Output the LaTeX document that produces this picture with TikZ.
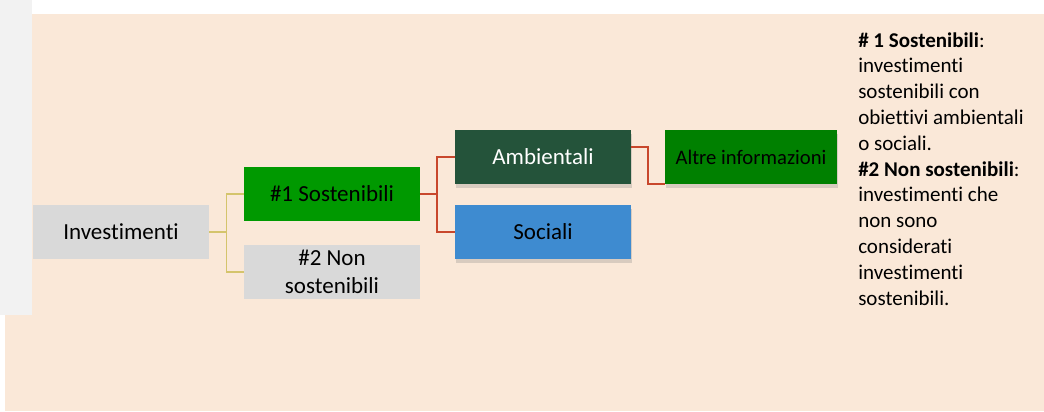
\documentclass[tikz,border=0pt]{standalone}
\usepackage{fontspec}
\setmainfont[Ligatures=NoCommon]{Carlito}
\usetikzlibrary{shadows}
\definecolor{peach}{HTML}{FAE8D8}
\definecolor{panel}{HTML}{F2F2F2}
\definecolor{boxgray}{HTML}{D9D9D9}
\definecolor{sostgreen}{HTML}{009900}
\definecolor{ambgreen}{HTML}{24533A}
\definecolor{socblue}{HTML}{3E8BD0}
\definecolor{altgreen}{HTML}{008000}
\definecolor{lineyellow}{HTML}{D4C46C}
\definecolor{linered}{HTML}{C8472C}
\begin{document}
\begin{tikzpicture}[x=0.75pt,y=-0.75pt,
  box/.style={minimum width=132pt,minimum height=40.5pt,inner sep=0pt,align=center,
    font=\fontsize{17.25}{20.7}\selectfont},
  shade/.style={drop shadow={shadow xshift=1pt,shadow yshift=-3pt,opacity=0.28}},
  yline/.style={draw=lineyellow,line width=1.1pt},
  rline/.style={draw=linered,line width=1.5pt}]
  \useasboundingbox (0,0) rectangle (1044,411);
  \fill[peach] (5,14) rectangle (1044,411);
  \fill[panel] (0,0) rectangle (32,315);
  \node[box,fill=boxgray] (11) at (121,232) {Investimenti};
  \node[box,fill=sostgreen] (21) at (332,194) {\#1 Sostenibili};
  \node[box,fill=boxgray] (22) at (332,272) {\#2 Non\\sostenibili};
  \node[box,shade,fill=ambgreen,text=white] (31) at (543,157) {Ambientali};
  \node[box,shade,fill=socblue] (32) at (543,232) {Sociali};
  \node[box,shade,fill=altgreen,minimum width=129pt,font=\fontsize{15.5}{18.6}\selectfont] (41) at (751,157) {Altre informazioni};
  \draw[yline] (11.east) -- ++(17,0) |- (21.west);
  \draw[yline] (11.east) -- ++(17,0) |- (22.west);
  \draw[rline] (21.east) -- ++(17,0) |- (31.west);
  \draw[rline] (21.east) -- ++(17,0) |- (32.west);
  \draw[rline] ([yshift=7.5pt]31.east) -- ++(17,0) |- (41.south west);
  \node[anchor=north west,inner sep=0pt,align=left,font=\fontsize{15.75}{19.35}\selectfont] (51) at (858,32)
    {\textbf{\# 1 Sostenibili}:\\investimenti\\sostenibili con\\obiettivi ambientali\\o sociali.\\
     \textbf{\#2 Non sostenibili}:\\investimenti che\\non sono\\considerati\\investimenti\\sostenibili.};
\end{tikzpicture}
\end{document}
